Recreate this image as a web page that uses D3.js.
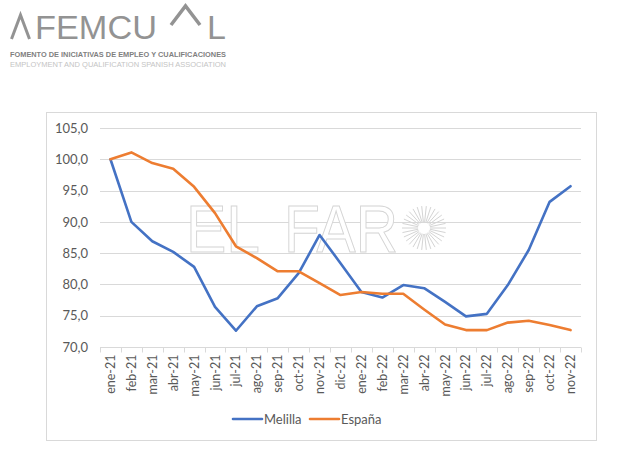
<!DOCTYPE html>
<html>
<head>
<meta charset="utf-8">
<script src="https://cdn.jsdelivr.net/npm/d3@7"></script>
<style>
  body { margin: 0; background: #fff; }
  svg { display: block; }
</style>
</head>
<body>
<div id="chart"></div>
<script>
// data
var months = ["ene-21", "feb-21", "mar-21", "abr-21", "may-21", "jun-21", "jul-21", "ago-21",
              "sep-21", "oct-21", "nov-21", "dic-21", "ene-22", "feb-22", "mar-22", "abr-22",
              "may-22", "jun-22", "jul-22", "ago-22", "sep-22", "oct-22", "nov-22"];
var melilla = [100.0, 90.0, 86.9, 85.2, 82.8, 76.4, 72.6, 76.5, 77.8, 81.8, 87.9, 83.4,
               78.8, 77.9, 79.9, 79.4, 77.2, 74.9, 75.3, 79.9, 85.5, 93.2, 95.7];
var espana = [100.0, 101.1, 99.4, 98.5, 95.6, 91.4, 86.1, 84.2, 82.1, 82.1, 80.2, 78.3,
              78.8, 78.5, 78.5, 76.0, 73.6, 72.7, 72.7, 73.9, 74.2, 73.5, 72.7];
var yTicks = [70, 75, 80, 85, 90, 95, 100, 105];
var seriesNames = ["Melilla", "España"];
var seriesColors = ["#4472C4", "#ED7D31"];

function init() {
    var w = 623;
    var h = 453;
    var font = "Lato, 'Liberation Sans', sans-serif";
    var txt = "#595959";
    var logoGrey = "#939393";

    var svg = d3.select("#chart")
                .append("svg")
                .attr("width", w)
                .attr("height", h);

    // ---- logo ----
    var logo = svg.append("g").attr("fill", logoGrey);
    logo.append("path")
        .attr("d", "M11.5,39 L20.5,15 L29.5,39")
        .attr("fill", "none").attr("stroke", logoGrey).attr("stroke-width", 3);
    logo.append("text")
        .attr("x", 35).attr("y", 39)
        .attr("textLength", 122).attr("lengthAdjust", "spacingAndGlyphs")
        .style("font-family", "'Liberation Sans', sans-serif")
        .style("font-size", "34px")
        .text("FEMCU");
    logo.append("path")
        .attr("d", "M171,25 L185.5,6 L200,25")
        .attr("fill", "none").attr("stroke", logoGrey).attr("stroke-width", 3.5);
    logo.append("text")
        .attr("x", 207).attr("y", 39)
        .style("font-family", "'Liberation Sans', sans-serif")
        .style("font-size", "34px")
        .text("L");
    logo.append("text")
        .attr("x", 10).attr("y", 57)
        .attr("textLength", 216).attr("lengthAdjust", "spacingAndGlyphs")
        .style("font-family", "'Liberation Sans', sans-serif")
        .style("font-size", "7.5px").style("font-weight", "bold")
        .attr("fill", "#7f7f7f")
        .text("FOMENTO DE INICIATIVAS DE EMPLEO Y CUALIFICACIONES");
    logo.append("text")
        .attr("x", 10).attr("y", 67)
        .attr("textLength", 216).attr("lengthAdjust", "spacingAndGlyphs")
        .style("font-family", "'Liberation Sans', sans-serif")
        .style("font-size", "7.5px")
        .attr("fill", "#c4c4c4")
        .text("EMPLOYMENT AND QUALIFICATION SPANISH ASSOCIATION");

    // ---- chart box ----
    svg.append("rect")
       .attr("x", 46.5).attr("y", 112.5)
       .attr("width", 550).attr("height", 328)
       .attr("fill", "#fff")
       .attr("stroke", "#d9d9d9");

    var xScale = d3.scaleBand()
                   .domain(months)
                   .range([100, 581]);

    var yScale = d3.scaleLinear()
                   .domain([70, 105])
                   .range([347, 128]);

    // gridlines
    svg.append("g")
       .selectAll("line")
       .data(yTicks.slice(1))
       .enter()
       .append("line")
       .attr("x1", 100).attr("x2", 581)
       .attr("y1", function(d) { return Math.round(yScale(d)) + 0.5; })
       .attr("y2", function(d) { return Math.round(yScale(d)) + 0.5; })
       .attr("stroke", "#d9d9d9");

    // watermark
    var wm = svg.append("g")
                .attr("fill", "#fff")
                .attr("stroke", "#d4d4d4")
                .attr("stroke-width", 1);
    wm.append("text")
      .attr("x", 186).attr("y", 252)
      .attr("textLength", 74).attr("lengthAdjust", "spacingAndGlyphs")
      .style("font-family", "'Liberation Sans', sans-serif")
      .style("font-size", "66px")
      .text("EL");
    wm.append("text")
      .attr("x", 284).attr("y", 252)
      .attr("textLength", 114).attr("lengthAdjust", "spacingAndGlyphs")
      .style("font-family", "'Liberation Sans', sans-serif")
      .style("font-size", "66px")
      .text("FAR");
    var rays = d3.range(30);
    wm.selectAll("line.ray")
      .data(rays)
      .enter()
      .append("line")
      .attr("class", "ray")
      .attr("x1", function(d) { return 424 + 6 * Math.cos(d / 30 * 2 * Math.PI); })
      .attr("y1", function(d) { return 228 + 6 * Math.sin(d / 30 * 2 * Math.PI); })
      .attr("x2", function(d) { return 424 + 22 * Math.cos(d / 30 * 2 * Math.PI); })
      .attr("y2", function(d) { return 228 + 22 * Math.sin(d / 30 * 2 * Math.PI); });

    // y axis labels
    var yAxis = d3.axisLeft(yScale)
                  .tickValues(yTicks)
                  .tickSize(0)
                  .tickPadding(0)
                  .tickFormat(function(d) { return d3.format(".1f")(d).replace(".", ","); });
    var gy = svg.append("g")
                .attr("transform", "translate(88, 0)")
                .call(yAxis);
    gy.select(".domain").remove();
    gy.selectAll("text")
      .attr("fill", txt)
      .style("font-family", font)
      .style("font-size", "13px");

    // x axis with ticks between categories
    var step = xScale.step();
    var gx = svg.append("g").attr("transform", "translate(0, 347.5)");
    gx.append("line")
      .attr("x1", 100).attr("x2", 581)
      .attr("stroke", "#d9d9d9");
    gx.selectAll("line.tk")
      .data(d3.range(months.length + 1))
      .enter()
      .append("line")
      .attr("class", "tk")
      .attr("x1", function(i) { return Math.round(100 + i * step) + 0.5; })
      .attr("x2", function(i) { return Math.round(100 + i * step) + 0.5; })
      .attr("y1", 0).attr("y2", 5)
      .attr("stroke", "#d9d9d9");
    gx.selectAll("text")
      .data(months)
      .enter()
      .append("text")
      .attr("transform", function(d) {
          return "translate(" + (xScale(d) + xScale.bandwidth() / 2 + 4.5) + ", 7) rotate(-90)";
      })
      .attr("text-anchor", "end")
      .attr("fill", txt)
      .style("font-family", font)
      .style("font-size", "12.5px")
      .text(function(d) { return d; });

    // lines
    var line = d3.line()
                 .x(function(d, i) { return xScale(months[i]) + xScale.bandwidth() / 2; })
                 .y(function(d) { return yScale(d); });

    [melilla, espana].forEach(function(series, k) {
        svg.append("path")
           .datum(series)
           .attr("d", line)
           .attr("fill", "none")
           .attr("stroke", seriesColors[k])
           .attr("stroke-width", 2.6)
           .attr("stroke-linejoin", "round")
           .attr("stroke-linecap", "round");
    });

    // legend
    var legendX = [233, 310];
    var lg = svg.append("g").attr("transform", "translate(0, 419)");
    seriesNames.forEach(function(name, k) {
        lg.append("line")
          .attr("x1", legendX[k]).attr("x2", legendX[k] + 29)
          .attr("stroke", seriesColors[k])
          .attr("stroke-width", 2.6)
          .attr("stroke-linecap", "round");
        lg.append("text")
          .attr("x", legendX[k] + 31)
          .attr("y", 4.5)
          .attr("fill", txt)
          .style("font-family", font)
          .style("font-size", "13px")
          .text(name);
    });
}

window.onload = init;
</script>
</body>
</html>
